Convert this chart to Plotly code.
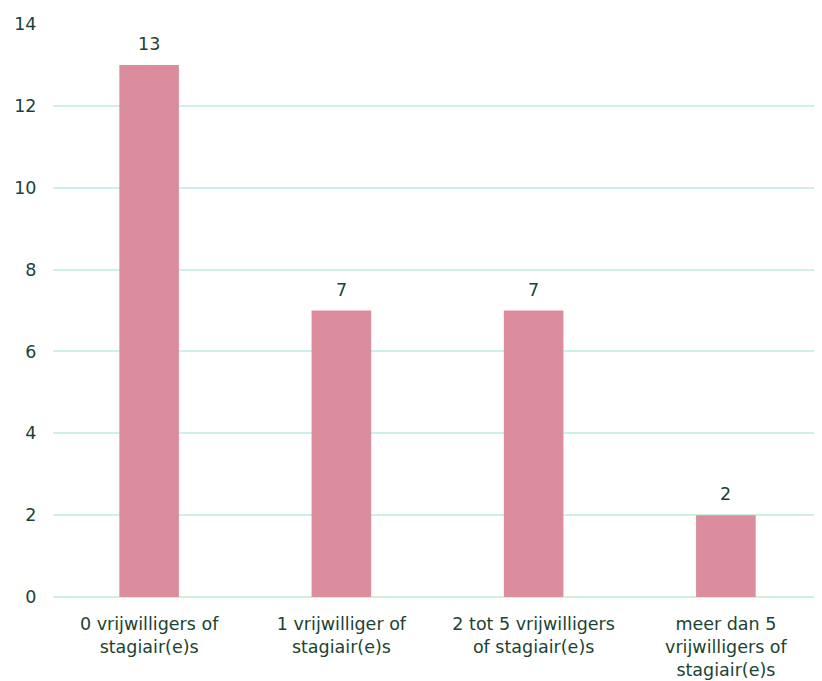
import plotly.graph_objects as go

categories = ["0 vrijwilligers of<br>stagiair(e)s", "1 vrijwilliger of<br>stagiair(e)s",
              "2 tot 5 vrijwilligers<br>of stagiair(e)s", "meer dan 5<br>vrijwilligers of<br>stagiair(e)s"]
values = [13, 7, 7, 2]

text_color = "#1B4332"
grid_color = "#CFF2E0"
fig = go.Figure(go.Bar(
    x=categories, y=values,
    marker=dict(color="#DB8C9D", line=dict(width=0)),
    width=0.31,
))
for c, v in zip(categories, values):
    fig.add_annotation(x=c, y=v, text=str(v), showarrow=False, yanchor="bottom",
                       yshift=9, font=dict(size=17.5, color=text_color))
fig.update_layout(
    width=814, height=673, margin=dict(l=45, r=0, t=16, b=84),
    plot_bgcolor="white", paper_bgcolor="white",
    font=dict(family="DejaVu Sans", size=17.5, color=text_color),
    showlegend=False,
    xaxis=dict(tickfont=dict(size=17.5), ticks="outside", ticklen=11,
               tickcolor="rgba(0,0,0,0)", showline=False, automargin=False),
    yaxis=dict(range=[0, 14], dtick=2, gridcolor=grid_color, gridwidth=1.5,
               zeroline=True, zerolinecolor=grid_color, zerolinewidth=1.5,
               ticks="outside", ticklen=12, tickcolor="rgba(0,0,0,0)",
               tickfont=dict(size=17.5), automargin=False),
)
fig.write_html("out.html")
